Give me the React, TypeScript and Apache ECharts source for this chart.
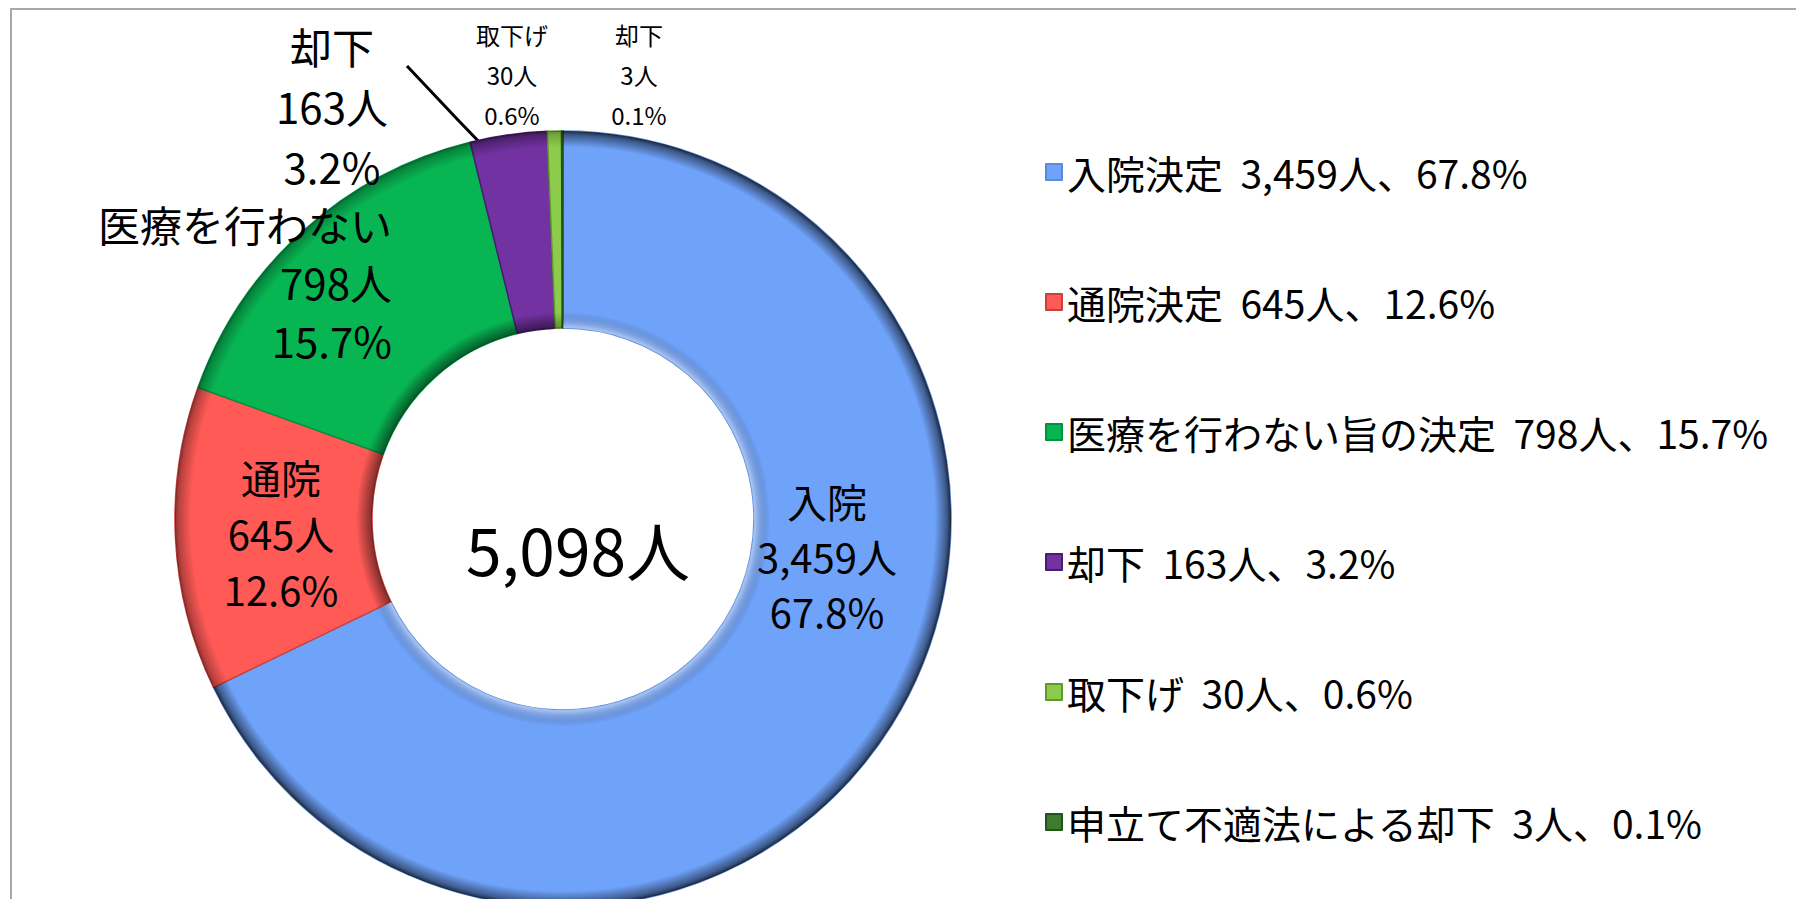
import React, { useEffect, useRef } from "react";
import * as echarts from "echarts";

// ---- data ----
const categories = [
  "入院決定",
  "通院決定",
  "医療を行わない旨の決定",
  "却下",
  "取下げ",
  "申立て不適法による却下",
];
const shortLabels = ["入院", "通院", "医療を行わない", "却下", "取下げ", "却下"];
const counts = [3459, 645, 798, 163, 30, 3];
const percents = [67.8, 12.6, 15.7, 3.2, 0.6, 0.1];
const total = 5098;

// ---- styles ----
const colors = ["#6FA2F9", "#FF5A56", "#08B553", "#7232A2", "#8CCB4B", "#3E7B2C"];
const borderColors = ["#5A8BDB", "#C8403C", "#05913F", "#4A1C70", "#5E9A2A", "#25521A"];
const outerShade = [0.75, 0.45, 0.4, 0.5, 0.3, 0.3];
const innerShade = ["rgba(255,255,255,0.45)", "rgba(0,0,0,0.5)", "rgba(0,0,0,0.5)", "rgba(0,0,0,0.5)", "rgba(0,0,0,0.3)", "rgba(0,0,0,0.3)"];
const FONT = "'Noto Sans CJK JP', 'Noto Sans', sans-serif";

const CENTER = [563, 519];
const R_IN = 191;
const R_OUT = 388;
const BEVEL = 16;

// label placement (pixels in the chart)
const labelPlace = [
  { x: 827, y: 556, align: "center", size: 40, lh: 55 },
  { x: 281, y: 533, align: "center", size: 40, lh: 56 },
  { x: 392, y: 281, align: "right", size: 42, lh: 58 },
  { x: 332, y: 105, align: "center", size: 42, lh: 60 },
  { x: 512, y: 74, align: "center", size: 24, lh: 40 },
  { x: 639, y: 74, align: "center", size: 24, lh: 40 },
];
const leader = [
  [510, 174],
  [458, 120],
  [407, 66],
];

const fmt = (n: number) => n.toLocaleString("en-US");

export default function App() {
  const ref = useRef<HTMLDivElement>(null);
  useEffect(() => {
    if (!ref.current) return;
    const chart = echarts.init(ref.current, null, { renderer: "svg" });
    const data = categories.map((name, i) => ({
      name,
      value: counts[i],
      itemStyle: { color: colors[i], borderColor: borderColors[i], borderWidth: 1.5 },
      label: {
        fontSize: labelPlace[i].size,
        lineHeight: labelPlace[i].lh,
        align: labelPlace[i].align,
      },
      labelLine: i === 3 ? { show: true, lineStyle: { color: "#000", width: 3 } } : { show: false },
    }));
    const outerData = categories.map((name, i) => ({
      name,
      value: counts[i],
      itemStyle: {
        color: new echarts.graphic.RadialGradient(
          CENTER[0],
          CENTER[1],
          R_OUT,
          [
            { offset: (R_OUT - BEVEL) / R_OUT, color: "rgba(0,0,0,0)" },
            { offset: (R_OUT - 4) / R_OUT, color: `rgba(0,0,0,${outerShade[i] * 0.6})` },
            { offset: 1, color: `rgba(0,0,0,${outerShade[i]})` },
          ],
          true
        ),
      },
    }));
    const innerData = categories.map((name, i) => ({
      name,
      value: counts[i],
      itemStyle: {
        color: new echarts.graphic.RadialGradient(
          CENTER[0],
          CENTER[1],
          R_IN + BEVEL,
          [
            { offset: R_IN / (R_IN + BEVEL), color: innerShade[i] },
            { offset: 1, color: "rgba(0,0,0,0)" },
          ],
          true
        ),
      },
    }));
    chart.setOption({
      animation: false,
      backgroundColor: "#fff",
      graphic: [
        {
          type: "rect",
          shape: { x: 11, y: 9, width: 2000, height: 1000 },
          style: { fill: "none", stroke: "#A8A8A8", lineWidth: 2 },
          z: -1,
        },
        {
          type: "text",
          x: 578,
          y: 548,
          style: {
            text: fmt(total) + "人",
            font: `64px ${FONT}`,
            fill: "#000",
            textAlign: "center",
            textVerticalAlign: "middle",
          },
          z: 10,
        },
      ],
      legend: {
        data: categories,
        orient: "vertical",
        left: 1040,
        top: 147,
        itemWidth: 16,
        itemHeight: 16,
        itemGap: 90,
        icon: "rect",
        textStyle: { fontSize: 39, lineHeight: 40, color: "#000", fontFamily: FONT },
        formatter: (name: string) => {
          const i = categories.indexOf(name);
          return `${name}  ${fmt(counts[i])}人、${percents[i].toFixed(1)}%`;
        },
        selectedMode: false,
      },
      series: [
        {
          type: "pie",
          z: 2,
          center: CENTER,
          radius: [R_IN, R_OUT],
          startAngle: 90,
          clockwise: true,
          avoidLabelOverlap: false,
          label: {
            show: true,
            position: "outside",
            color: "#000",
            fontFamily: FONT,
            formatter: (p: any) =>
              `${shortLabels[p.dataIndex]}\n${fmt(counts[p.dataIndex])}人\n${percents[p.dataIndex].toFixed(1)}%`,
          },
          labelLayout: (params: any) => {
            const i = params.dataIndex;
            const lp = labelPlace[i];
            const out: any = { x: lp.x, y: lp.y, align: lp.align, verticalAlign: "middle" };
            if (i === 3) out.labelLinePoints = leader;
            return out;
          },
          data,
        },
        // bevel: outer edge shading
        {
          type: "pie",
          z: 3,
          silent: true,
          center: CENTER,
          radius: [R_OUT - BEVEL, R_OUT],
          startAngle: 90,
          label: { show: false },
          labelLine: { show: false },
          data: outerData,
        },
        // bevel: inner edge shading
        {
          type: "pie",
          z: 3,
          silent: true,
          center: CENTER,
          radius: [R_IN, R_IN + BEVEL],
          startAngle: 90,
          label: { show: false },
          labelLine: { show: false },
          data: innerData,
        },
      ],
    });
    return () => chart.dispose();
  }, []);
  return (
    <div
      ref={ref}
      style={{ position: "absolute", left: 0, top: 0, width: 1796, height: 899 }}
    />
  );
}
